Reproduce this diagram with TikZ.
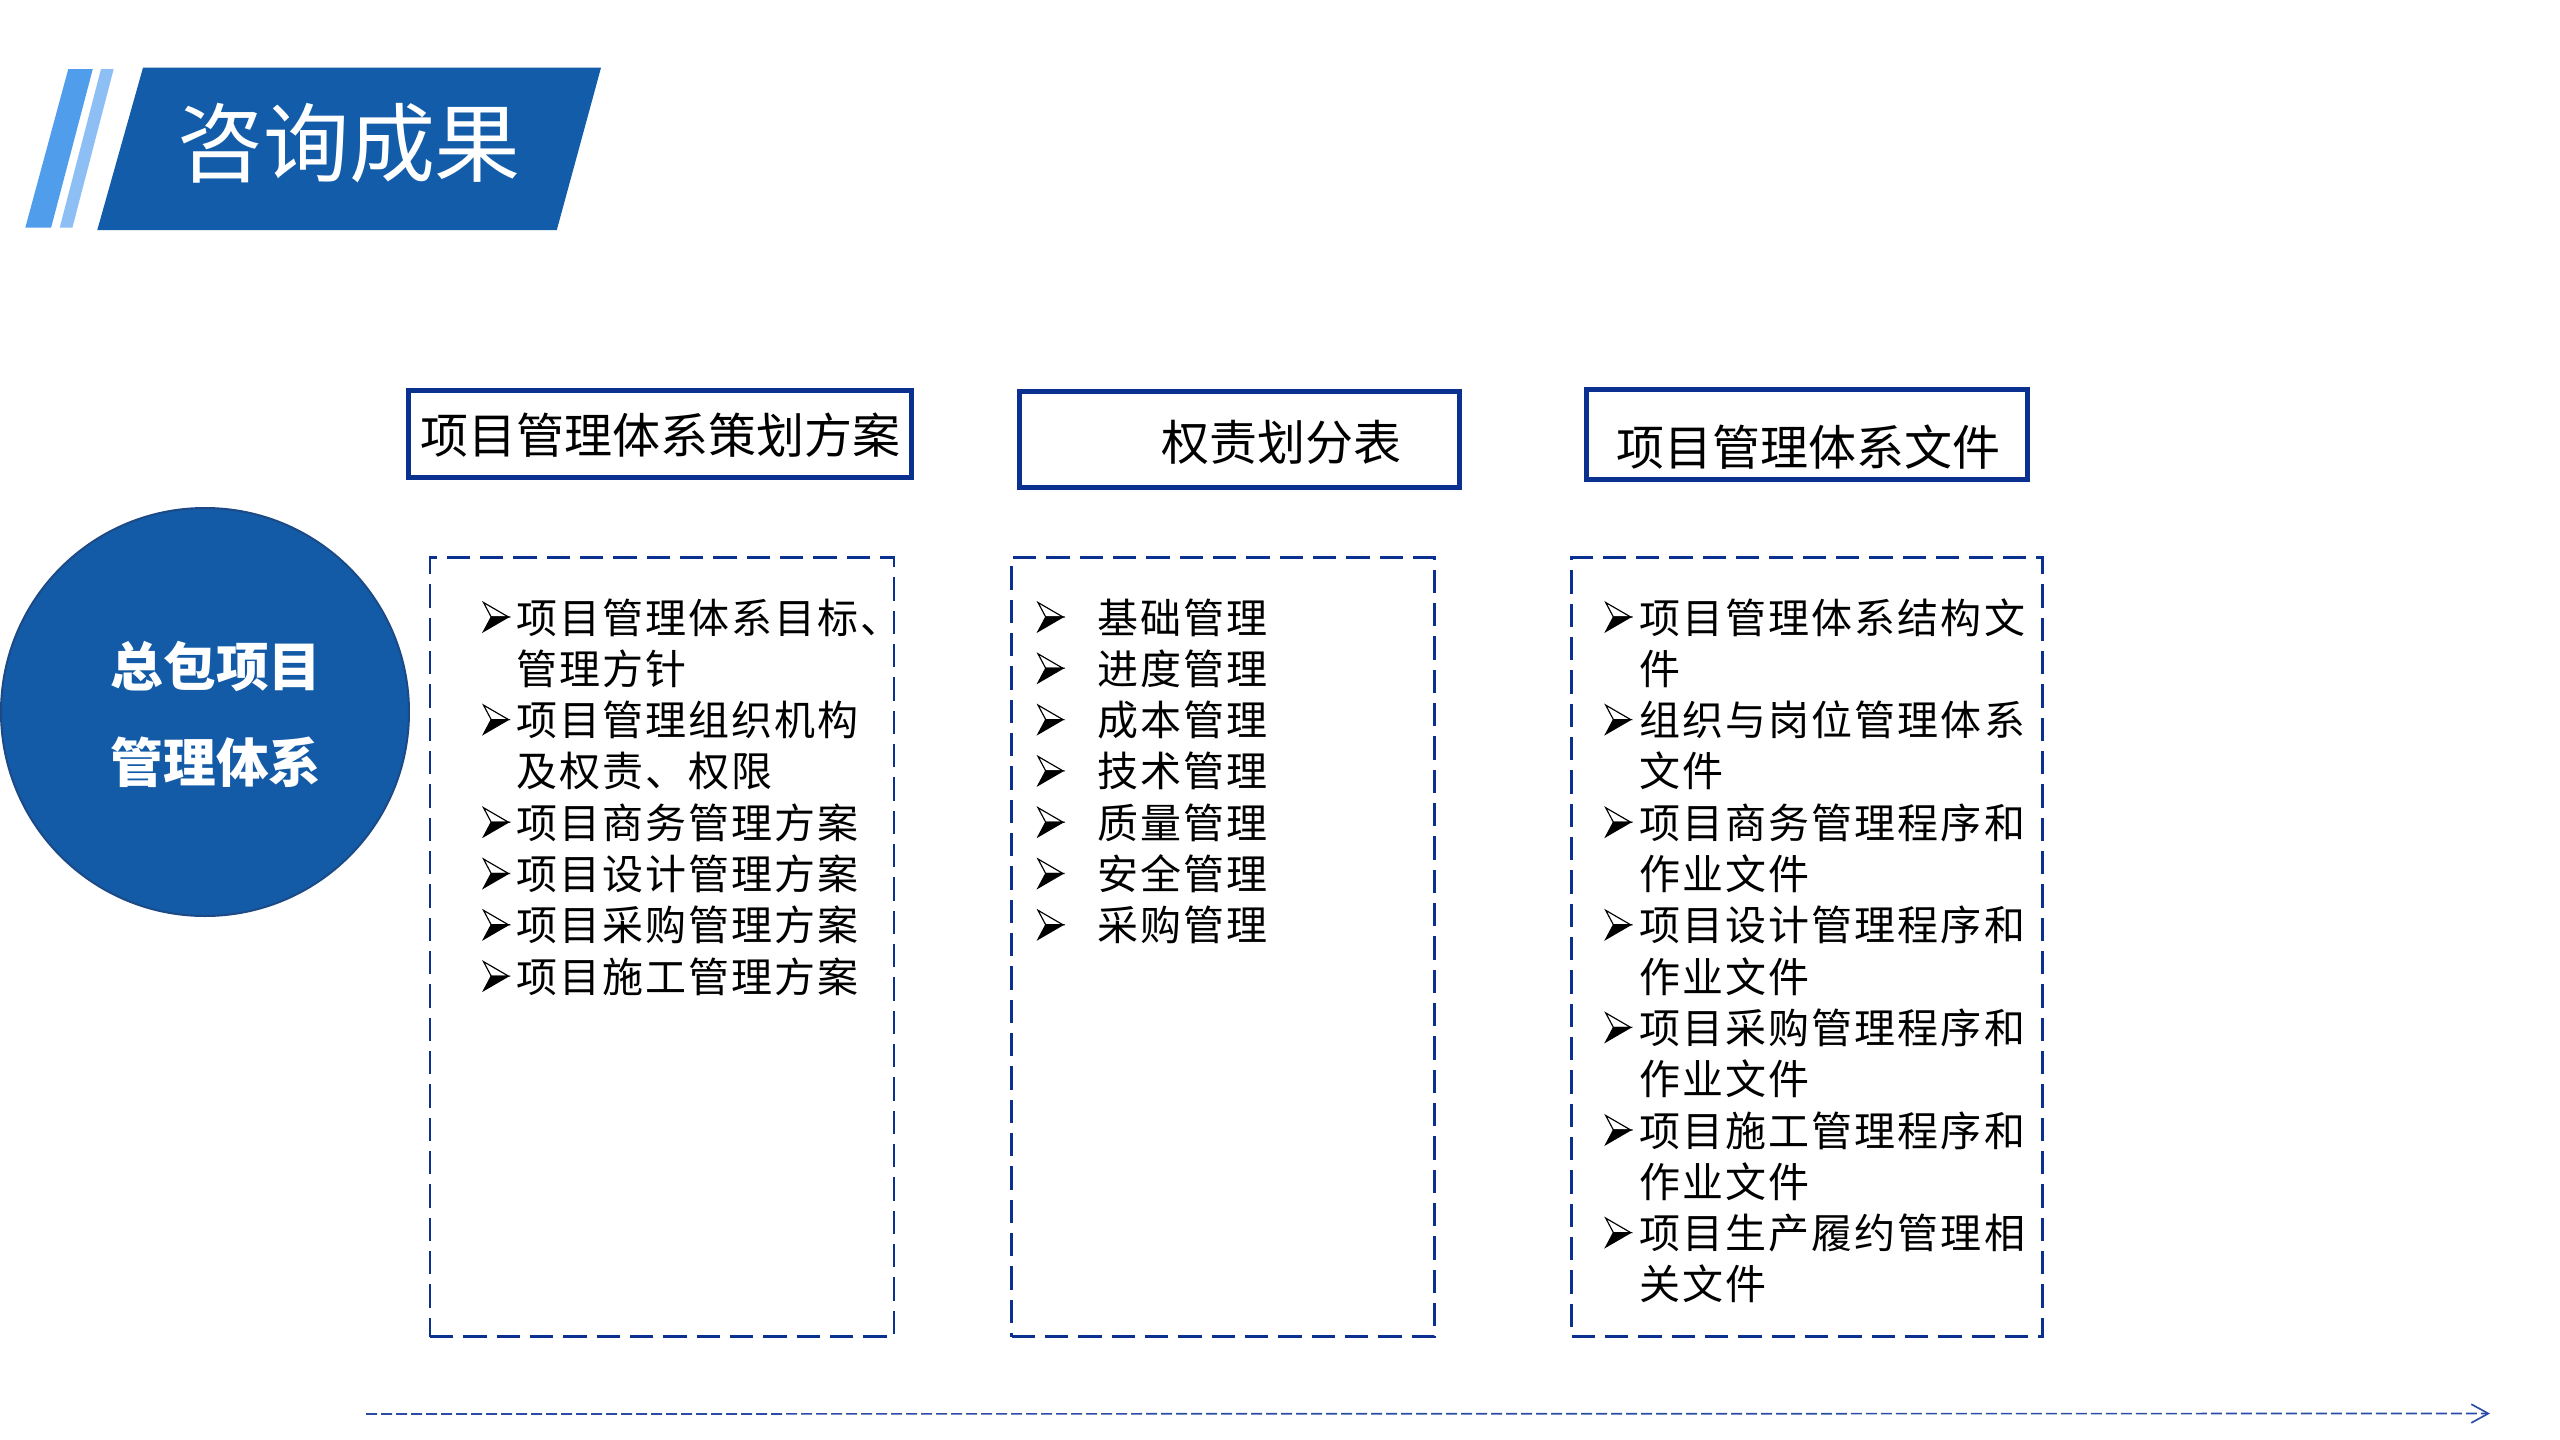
\documentclass[tikz,border=0pt]{standalone}
\usepackage{fontspec}
\newfontfamily\cjk{Noto Sans CJK SC}
\newfontfamily\cjkls[LetterSpace=5]{Noto Sans CJK SC}
\usetikzlibrary{arrows.meta}
\definecolor{bannerblue}{HTML}{125CA9}
\definecolor{stripeA}{HTML}{4F9DEB}
\definecolor{stripeB}{HTML}{8DBEF4}
\definecolor{circblue}{HTML}{135BA7}
\definecolor{circedge}{HTML}{1B4A86}
\definecolor{navy}{HTML}{0B3190}
\definecolor{lineblue}{HTML}{2B4CA6}
\tikzset{
  titlebox/.style={draw=navy, line width=1.5pt, inner sep=0pt},
  titletext/.style={inner sep=0pt, font=\cjk\fontsize{14.4}{16}\selectfont, text=black},
  dbox/.style={draw=navy, line width=0.8pt, dash pattern=on 7pt off 3pt, inner sep=0pt, minimum height=233.64pt},
  listtext/.style={anchor=base west, inner sep=0pt, font=\cjkls\fontsize{12.3}{14}\selectfont, text=black},
  arrowbul/.pic={
    \filldraw[fill=white, draw=black, line width=0.35pt, line join=miter] (0,-14.5) -- (25,0) -- (7.7,0) -- cycle;
    \filldraw[fill=black, draw=black, line width=0.35pt, line join=miter] (7.7,0) -- (25,0) -- (0,14.5) -- cycle;
  },
  timeline/.style={draw=lineblue, line width=0.5pt, dash pattern=on 3.3pt off 1.2pt,
    -{Straight Barb[length=5.1pt, width=5.6pt, line width=0.5pt]}}
}
\begin{document}
\begin{tikzpicture}[x=0.3pt,y=-0.3pt]
\useasboundingbox (0,0) rectangle (2560,1440);
% banner
\fill[stripeA] (68.3,69) -- (92.8,69) -- (51.1,227.7) -- (25.3,227.7) -- cycle;
\fill[stripeB] (101,69) -- (113.7,69) -- (72.4,227.7) -- (59.7,227.7) -- cycle;
\fill[bannerblue] (143,67.7) -- (601,67.7) -- (556.8,230) -- (97.3,230) -- cycle;
\node[inner sep=0pt, text=white, font=\cjk\fontsize{25.8}{28}\selectfont] (title) at (349,143) {咨询成果};
% core circle
\node[circle, fill=circblue, draw=circedge, line width=0.6pt, minimum size=122.4pt, inner sep=0pt] (core) at (205,712) {};
\node[inner sep=0pt, text=white, align=center, font=\cjk\bfseries\fontsize{15.8}{28.8}\selectfont] (coretext) at (216,714) {总包项目\\管理体系};
% title boxes
\node[titlebox, minimum width=150.9pt, minimum height=25.95pt] (t1) at (659.5,433.75) {};
\node[titletext] (t1text) at (660,435) {项目管理体系策划方案};
\node[titlebox, minimum width=131.9pt, minimum height=28.95pt] (t2) at (1239.4,439.25) {};
\node[titletext] (t2text) at (1281,442.5) {权责划分表};
\node[titlebox, minimum width=132.3pt, minimum height=27.15pt] (t3) at (1806.5,434.25) {};
\node[titletext] (t3text) at (1808,447) {项目管理体系文件};
% dashed boxes
\node[dbox, minimum width=139.2pt] (d1) at (662,947.1) {};
\node[dbox, minimum width=126.9pt] (d2) at (1223,947.1) {};
\node[dbox, minimum width=141.3pt] (d3) at (1807.2,947.1) {};
% bullets
\foreach \yy in {617,719.6,822.2,873.5,924.8,976.1} \pic at (483.5,\yy) {arrowbul};
\foreach \yy in {617,668.3,719.6,770.9,822.2,873.5,924.8} \pic at (1038,\yy) {arrowbul};
\foreach \yy in {617,719.6,822.2,924.8,1027.4,1130,1232.6} \pic at (1605.7,\yy) {arrowbul};
% list 1
\node[listtext] (l1a) at (515.5,633) {项目管理体系目标、};
\node[listtext] (l1a2) at (515.5,684.3) {管理方针};
\node[listtext] (l1b) at (515.5,735.6) {项目管理组织机构};
\node[listtext] (l1b2) at (515.5,786.9) {及权责、权限};
\node[listtext] (l1c) at (515.5,838.2) {项目商务管理方案};
\node[listtext] (l1d) at (515.5,889.5) {项目设计管理方案};
\node[listtext] (l1e) at (515.5,940.8) {项目采购管理方案};
\node[listtext] (l1f) at (515.5,992.1) {项目施工管理方案};
% list 2
\node[listtext] (l2a) at (1096.5,633) {基础管理};
\node[listtext] (l2b) at (1096.5,684.3) {进度管理};
\node[listtext] (l2c) at (1096.5,735.6) {成本管理};
\node[listtext] (l2d) at (1096.5,786.9) {技术管理};
\node[listtext] (l2e) at (1096.5,838.2) {质量管理};
\node[listtext] (l2f) at (1096.5,889.5) {安全管理};
\node[listtext] (l2g) at (1096.5,940.8) {采购管理};
% list 3
\node[listtext] (l3a) at (1639,633) {项目管理体系结构文};
\node[listtext] (l3a2) at (1639,684.3) {件};
\node[listtext] (l3b) at (1639,735.6) {组织与岗位管理体系};
\node[listtext] (l3b2) at (1639,786.9) {文件};
\node[listtext] (l3c) at (1639,838.2) {项目商务管理程序和};
\node[listtext] (l3c2) at (1639,889.5) {作业文件};
\node[listtext] (l3d) at (1639,940.8) {项目设计管理程序和};
\node[listtext] (l3d2) at (1639,992.1) {作业文件};
\node[listtext] (l3e) at (1639,1043.4) {项目采购管理程序和};
\node[listtext] (l3e2) at (1639,1094.7) {作业文件};
\node[listtext] (l3f) at (1639,1146) {项目施工管理程序和};
\node[listtext] (l3f2) at (1639,1197.3) {作业文件};
\node[listtext] (l3g) at (1639,1248.6) {项目生产履约管理相};
\node[listtext] (l3g2) at (1639,1299.9) {关文件};
% timeline arrow
\coordinate (arrstart) at (366,1414);
\coordinate (arrend) at (2490,1413.5);
\draw[timeline] (arrstart) -- (arrend);
\end{tikzpicture}
\end{document}
